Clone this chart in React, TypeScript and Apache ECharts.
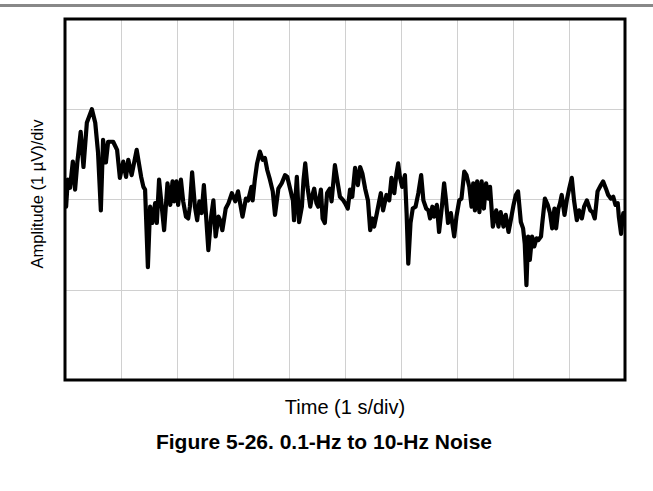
import React, { useEffect, useRef } from "react";
import * as echarts from "echarts";

// Time (s) and amplitude (µV)
const timeS: number[] = [
  0.02, 0.05, 0.09, 0.14, 0.18, 0.22, 0.28, 0.33, 0.39, 0.48, 0.54, 0.59, 0.64, 0.68, 0.73, 0.77, 0.86, 0.93, 0.98,
  1.04, 1.09, 1.13, 1.19, 1.28, 1.36, 1.40, 1.43, 1.48, 1.52, 1.56, 1.61, 1.64, 1.68, 1.71, 1.77, 1.83, 1.88, 1.92, 1.95, 1.99,
  2.02, 2.07, 2.11, 2.16, 2.20, 2.23, 2.27, 2.32, 2.36, 2.40, 2.44, 2.48, 2.52, 2.56, 2.61, 2.65, 2.69, 2.74, 2.77, 2.81, 2.87, 2.92, 2.98,
  3.04, 3.09, 3.17, 3.23, 3.27, 3.33, 3.35, 3.39, 3.43, 3.48, 3.53, 3.57, 3.61, 3.66, 3.71, 3.75, 3.81, 3.87, 3.93, 3.97,
  4.02, 4.07, 4.09, 4.14, 4.18, 4.23, 4.26, 4.29, 4.33, 4.38, 4.41, 4.45, 4.49, 4.52, 4.57, 4.60, 4.64, 4.68, 4.73, 4.76, 4.82, 4.86, 4.91, 4.97,
  5.00, 5.05, 5.09, 5.13, 5.18, 5.23, 5.27, 5.31, 5.36, 5.41, 5.45, 5.49, 5.52, 5.57, 5.61, 5.64, 5.68, 5.74, 5.79, 5.83, 5.88, 5.92, 5.95, 5.98,
  6.02, 6.07, 6.10, 6.13, 6.17, 6.21, 6.26, 6.31, 6.36, 6.40, 6.45, 6.49, 6.52, 6.56, 6.59, 6.64, 6.68, 6.73, 6.77, 6.80, 6.84, 6.89, 6.95, 6.99,
  7.04, 7.08, 7.13, 7.17, 7.22, 7.26, 7.29, 7.32, 7.36, 7.40, 7.44, 7.48, 7.52, 7.56, 7.59, 7.64, 7.70, 7.74, 7.78, 7.83, 7.87, 7.92, 7.96,
  8.01, 8.05, 8.09, 8.14, 8.18, 8.21, 8.24, 8.27, 8.30, 8.34, 8.38, 8.42, 8.45, 8.50, 8.52, 8.57, 8.62, 8.66, 8.70, 8.74, 8.77, 8.81, 8.84, 8.87, 8.92, 8.96,
  9.00, 9.05, 9.09, 9.14, 9.18, 9.23, 9.27, 9.32, 9.38, 9.42, 9.46, 9.51, 9.57, 9.61, 9.66, 9.70, 9.75, 9.79, 9.83, 9.87, 9.89, 9.93, 9.95, 9.97,
];

const amplitudeUV: number[] = [
  -0.08, 0.22, 0.13, 0.42, 0.11, 0.41, 0.75, 0.36, 0.85, 1.0, 0.85, 0.52, -0.12, 0.66, 0.41, 0.64, 0.64, 0.55, 0.24,
  0.42, 0.25, 0.44, 0.27, 0.55, 0.25, 0.14, 0.11, -0.75, -0.08, -0.26, -0.04, -0.26, 0.22, 0.03, -0.34, 0.18, -0.06, 0.2, -0.02, 0.2,
  -0.06, 0.22, -0.02, -0.19, -0.21, -0.08, 0.3, -0.08, -0.23, -0.02, -0.15, 0.16, -0.19, -0.56, -0.19, -0.01, -0.41, -0.19, -0.23, -0.34, -0.1, -0.04, 0.07,
  -0.02, 0.09, -0.19, 0.01, -0.01, 0.14, -0.01, 0.22, 0.4, 0.53, 0.44, 0.46, 0.33, 0.22, 0.09, -0.17, 0.12, 0.18, 0.27, 0.25,
  0.12, -0.01, -0.23, 0.25, -0.25, -0.08, 0.22, 0.4, 0.14, -0.08, 0.03, 0.12, -0.04, -0.08, 0.11, -0.21, -0.26, 0.07, 0.12, -0.02, 0.38, 0.22, 0.03, -0.01,
  -0.04, -0.1, 0.11, 0.03, 0.35, 0.16, 0.36, 0.29, 0.12, -0.01, -0.34, -0.21, -0.3, -0.15, -0.02, 0.07, -0.12, 0.05, -0.01, 0.24, 0.07, 0.29, 0.4, 0.25,
  0.14, 0.27, -0.15, -0.71, -0.26, -0.1, -0.08, 0.07, 0.27, -0.01, -0.1, -0.12, -0.21, -0.08, -0.19, -0.06, -0.36, -0.08, 0.18, 0.01, -0.26, -0.15, -0.41, -0.19,
  -0.01, 0.01, 0.31, 0.27, 0.14, -0.08, 0.18, -0.12, 0.2, -0.14, 0.2, -0.1, 0.18, 0.01, 0.14, -0.3, -0.12, -0.3, -0.14, -0.3, -0.17, -0.36, -0.23,
  -0.06, 0.05, 0.09, -0.25, -0.32, -0.49, -0.95, -0.41, -0.67, -0.41, -0.52, -0.43, -0.45, -0.41, -0.28, 0.01, -0.06, -0.15, -0.32, -0.1, -0.32, -0.1, -0.04, 0.05, -0.17, -0.01,
  0.11, 0.24, -0.01, -0.23, -0.12, -0.21, -0.08, -0.01, -0.12, -0.14, -0.21, 0.09, 0.16, 0.2, 0.12, 0.05, 0.01, 0.03, -0.06, -0.04, -0.19, -0.38, -0.25, -0.15,
];

const xLabel = "Time (1 s/div)";
const yLabel = "Amplitude (1 µV)/div";
const caption = "Figure 5-26. 0.1-Hz to 10-Hz Noise";

export default function App() {
  const ref = useRef<HTMLDivElement>(null);
  useEffect(() => {
    document.body.style.margin = "0";
    if (!ref.current) return;
    const chart = echarts.init(ref.current, undefined, { renderer: "svg" });
    const data = timeS.map((t, i) => [t, amplitudeUV[i]]);
    chart.setOption({
      animation: false,
      backgroundColor: "#ffffff",
      grid: {
        left: 65,
        right: 28,
        top: 19,
        bottom: 111,
        show: false,
      },
      xAxis: {
        type: "value",
        min: 0,
        max: 10,
        interval: 1,
        axisLine: { show: false },
        axisTick: { show: false },
        axisLabel: { show: false },
        splitLine: { show: true, lineStyle: { color: "#d0d0d0", width: 1 } },
      },
      yAxis: {
        type: "value",
        min: -2,
        max: 2,
        interval: 1,
        axisLine: { show: false },
        axisTick: { show: false },
        axisLabel: { show: false },
        splitLine: { show: true, lineStyle: { color: "#d0d0d0", width: 1 } },
      },
      series: [
        {
          type: "line",
          data,
          showSymbol: false,
          symbol: "none",
          lineStyle: { color: "#000000", width: 4.2, join: "round", cap: "round" },
          z: 3,
        },
      ],
      graphic: [
        {
          type: "rect",
          left: 0,
          top: 4,
          shape: { width: 653, height: 3 },
          style: { fill: "#888888" },
          silent: true,
        },
        {
          type: "rect",
          shape: { x: 65, y: 19, width: 560, height: 361 },
          style: { fill: "none", stroke: "#000000", lineWidth: 3 },
          z: 100,
          silent: true,
        },
        {
          type: "text",
          x: 345,
          y: 407,
          style: {
            text: xLabel,
            fill: "#000000",
            font: '20px "Liberation Sans", Arial, sans-serif',
            textAlign: "center",
            textVerticalAlign: "middle",
          },
        },
        {
          type: "text",
          x: 37,
          y: 194,
          rotation: Math.PI / 2,
          style: {
            text: yLabel,
            fill: "#000000",
            font: '16.5px "Liberation Sans", Arial, sans-serif',
            textAlign: "center",
            textVerticalAlign: "middle",
          },
        },
        {
          type: "text",
          x: 324,
          y: 441,
          style: {
            text: caption,
            fill: "#000000",
            font: 'bold 21px "Liberation Sans", Arial, sans-serif',
            textAlign: "center",
            textVerticalAlign: "middle",
          },
        },
      ],
    });
    return () => chart.dispose();
  }, []);
  return (
    <div
      ref={ref}
      style={{ position: "absolute", left: 0, top: 0, width: 653, height: 491 }}
    />
  );
}
